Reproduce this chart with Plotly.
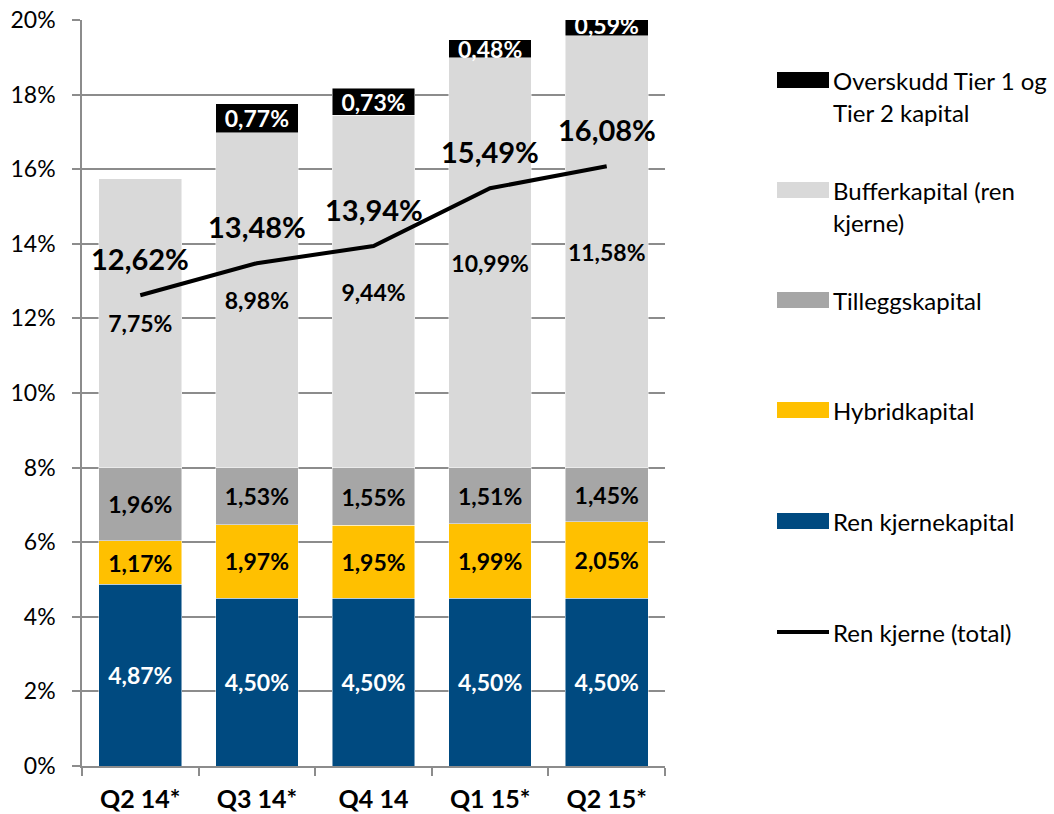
import plotly.graph_objects as go

categories = ["Q2 14*", "Q3 14*", "Q4 14", "Q1 15*", "Q2 15*"]
ren_kjernekapital = [4.87, 4.50, 4.50, 4.50, 4.50]
hybridkapital = [1.17, 1.97, 1.95, 1.99, 2.05]
tilleggskapital = [1.96, 1.53, 1.55, 1.51, 1.45]
bufferkapital = [7.75, 8.98, 9.44, 10.99, 11.58]
overskudd = [None, 0.77, 0.73, 0.48, 0.59]
ren_kjerne_total = [12.62, 13.48, 13.94, 15.49, 16.08]
y_ticks = [0, 2, 4, 6, 8, 10, 12, 14, 16, 18, 20]

FONT = "Lato"
W, H = 1054, 814
ML, MR, MT, MB = 82, 389, 20, 48
PW, PH = W - ML - MR, H - MT - MB


def fmt(v):
    return f"{v:.2f}".replace(".", ",") + "%"


def px_x(px):
    return (px - ML) / PW


def px_y(py):
    return (H - MB - py) / PH


fig = go.Figure()

series = [
    ("Ren kjernekapital", ren_kjernekapital, "#004A80", "white"),
    ("Hybridkapital", hybridkapital, "#FFC000", "black"),
    ("Tilleggskapital", tilleggskapital, "#A6A6A6", "black"),
    ("Bufferkapital (ren kjerne)", bufferkapital, "#D9D9D9", "black"),
    ("Overskudd Tier 1 og Tier 2 kapital", overskudd, "#000000", "white"),
]

for name, vals, color, tcolor in series:
    fig.add_trace(go.Bar(
        x=categories, y=vals, name=name,
        marker=dict(color=color, line=dict(color="rgba(255,255,255,0.6)", width=0.8)),
        text=[fmt(v) if v is not None else "" for v in vals],
        textposition="inside", insidetextanchor="middle", textangle=0,
        textfont=dict(family=FONT, size=23, color=tcolor, weight="bold"),
        constraintext="none", cliponaxis=True,
        hoverinfo="skip", showlegend=False,
    ))

fig.add_trace(go.Scatter(
    x=categories, y=ren_kjerne_total, mode="lines", name="Ren kjerne (total)",
    line=dict(color="black", width=4), showlegend=False, hoverinfo="skip",
))

annotations = []
# line labels
for i, c in enumerate(categories):
    annotations.append(dict(
        x=c, y=ren_kjerne_total[i], xref="x", yref="y",
        text=fmt(ren_kjerne_total[i]), showarrow=False, yshift=37,
        font=dict(family=FONT, size=29, color="black", weight="bold"),
    ))

# manual legend
legend_items = [
    (["Overskudd Tier 1 og", "Tier 2 kapital"], "#000000", 80, "bar"),
    (["Bufferkapital (ren", "kjerne)"], "#D9D9D9", 190, "bar"),
    (["Tilleggskapital"], "#A6A6A6", 300, "bar"),
    (["Hybridkapital"], "#FFC000", 410, "bar"),
    (["Ren kjernekapital"], "#004A80", 521, "bar"),
    (["Ren kjerne (total)"], "#000000", 632, "line"),
]
shapes = []
for lines, color, yc, kind in legend_items:
    if kind == "bar":
        shapes.append(dict(type="rect", xref="paper", yref="paper",
                           x0=px_x(777), x1=px_x(829), y0=px_y(yc + 8), y1=px_y(yc - 8),
                           fillcolor=color, line=dict(width=0)))
    else:
        shapes.append(dict(type="line", xref="paper", yref="paper",
                           x0=px_x(777), x1=px_x(829), y0=px_y(yc), y1=px_y(yc),
                           line=dict(color=color, width=4)))
    for k, t in enumerate(lines):
        annotations.append(dict(
            x=px_x(831), y=px_y(yc + 33 * k), xref="paper", yref="paper",
            xanchor="left", yanchor="middle", text=t, showarrow=False,
            font=dict(family=FONT, size=24, color="black"),
        ))

fig.update_layout(
    width=W, height=H, barmode="stack", bargap=0.29,
    margin=dict(l=ML, r=MR, t=MT, b=MB, autoexpand=False),
    plot_bgcolor="white", paper_bgcolor="white",
    font=dict(family=FONT, color="black"),
    annotations=annotations, shapes=shapes, showlegend=False,
    xaxis=dict(
        showline=True, linecolor="#8C8C8C", linewidth=1.5,
        ticks="outside", tickson="boundaries", ticklen=8, tickcolor="#8C8C8C", tickwidth=1.5,
        tickfont=dict(family=FONT, size=25, color="black", weight="bold"),
        ticklabelstandoff=10,
        showgrid=False,
    ),
    yaxis=dict(
        range=[0, 20], tickvals=y_ticks, ticktext=[f"{v}%" for v in y_ticks],
        showline=True, linecolor="#8C8C8C", linewidth=1.5,
        ticks="outside", ticklen=8, tickcolor="#8C8C8C", tickwidth=1.5,
        showgrid=True, gridcolor="#8C8C8C", gridwidth=1.5,
        tickfont=dict(family=FONT, size=23, color="black"),
        ticklabelstandoff=12,
        zeroline=False,
    ),
)

fig.write_html(
    "out.html",
    config={"displayModeBar": False},
    post_script="document.body.style.margin='0';document.body.style.overflow='hidden';",
)
